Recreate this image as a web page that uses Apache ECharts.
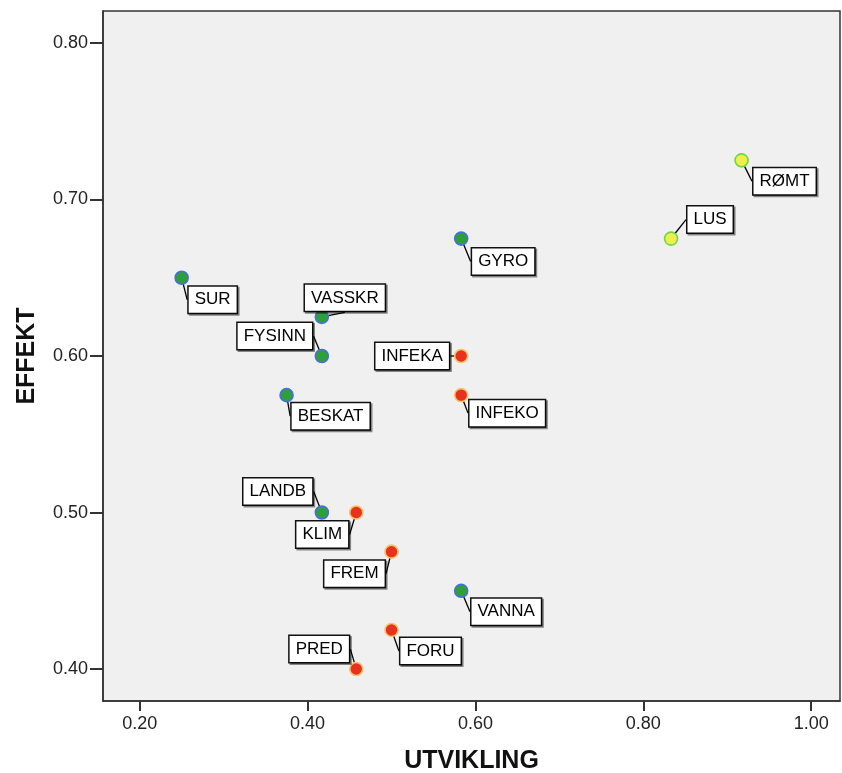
<!DOCTYPE html>
<html>
<head>
<meta charset="utf-8">
<script src="https://cdn.jsdelivr.net/npm/echarts@6/dist/echarts.min.js"></script>
<style>html,body{margin:0;padding:0;background:#fff}#c{width:842px;height:773px}</style>
</head>
<body>
<div id="c"></div>
<script>
// Data
const names = ['RØMT','LUS','GYRO','SUR','VASSKR','FYSINN','INFEKA','INFEKO','BESKAT','LANDB','KLIM','FREM','VANNA','FORU','PRED'];
const utvikling = [0.917,0.833,0.583,0.250,0.417,0.417,0.583,0.583,0.375,0.417,0.458,0.500,0.583,0.500,0.458];
const effekt = [0.725,0.675,0.675,0.650,0.625,0.600,0.600,0.575,0.575,0.500,0.500,0.475,0.450,0.425,0.400];
const group = [3,3,1,1,1,1,2,2,1,1,2,2,1,2,2];
const xTicks = ['0.20','0.40','0.60','0.80','1.00'];
const yTicks = ['0.40','0.50','0.60','0.70','0.80'];

// Layout/style (not data)
const labelOffsets = [[43,21],[39,-19],[42,23],[31,22],[23,-19],[-47,-20],[-49,0],[46,18],[44,21],[-44,-21],[-34,22],[-37,22],[45,21],[39,21],[-37,-20]];
const groupStyle = {
  1: {color:'#2f9e3c', borderColor:'#4a6fd8'},
  2: {color:'#e8321e', borderColor:'#f2c46a'},
  3: {color:'#eef04a', borderColor:'#72d44a'}
};

const data = names.map((n,i)=>({
  name:n,
  value:[utvikling[i], effekt[i]],
  itemStyle:{color:groupStyle[group[i]].color, borderColor:groupStyle[group[i]].borderColor, borderWidth:1.6, opacity:1}
}));

const chart = echarts.init(document.getElementById('c'));
const fontFam = '"Liberation Sans", Arial, sans-serif';
chart.setOption({
  animation:false,
  grid:{left:103, top:11, right:2, bottom:72, show:true, backgroundColor:'#f0f0f0', borderColor:'#333', borderWidth:1.5,
    containLabel:false, outerBoundsMode:'none'},
  xAxis:{
    type:'value', min:0.1563, max:1.0343,
    name:'UTVIKLING', nameLocation:'middle', nameGap:48,
    nameTextStyle:{fontFamily:fontFam, fontWeight:'bold', fontSize:25, color:'#111'},
    axisLine:{show:true, onZero:false, lineStyle:{color:'#333', width:1.5}},
    axisTick:{show:true, length:10, lineStyle:{color:'#333', width:2},
      customValues:xTicks.map(Number)},
    axisLabel:{fontFamily:fontFam, fontSize:18, color:'#222', margin:14,
      customValues:xTicks.map(Number), formatter:v=>v.toFixed(2)},
    splitLine:{show:false}
  },
  yAxis:{
    type:'value', min:0.3796, max:0.8204,
    name:'EFFEKT', nameLocation:'middle', nameGap:63, nameRotate:90,
    nameTextStyle:{fontFamily:fontFam, fontWeight:'bold', fontSize:25, color:'#111'},
    axisLine:{show:true, onZero:false, lineStyle:{color:'#333', width:1.5}},
    axisTick:{show:true, length:13, lineStyle:{color:'#333', width:2},
      customValues:yTicks.map(Number)},
    axisLabel:{fontFamily:fontFam, fontSize:18, color:'#222', margin:15,
      customValues:yTicks.map(Number), formatter:v=>v.toFixed(2)},
    splitLine:{show:false}
  },
  series:[{
    type:'scatter',
    symbolSize:13,
    data:data,
    itemStyle:{opacity:1},
    label:{
      show:true, position:'inside', formatter:'{b}',
      fontFamily:fontFam, fontSize:17, color:'#000',
      backgroundColor:'#ffffff', borderColor:'#111', borderWidth:1.5,
      padding:[5,6,4,6],
      shadowColor:'rgba(0,0,0,0.45)', shadowOffsetX:1.5, shadowOffsetY:1.5, shadowBlur:0
    },
    labelLine:{show:true, lineStyle:{color:'#000', width:1.3}},
    labelLayout:function(p){
      const o = labelOffsets[p.dataIndex];
      return {dx:o[0], dy:o[1]};
    }
  }]
});
</script>
</body>
</html>
